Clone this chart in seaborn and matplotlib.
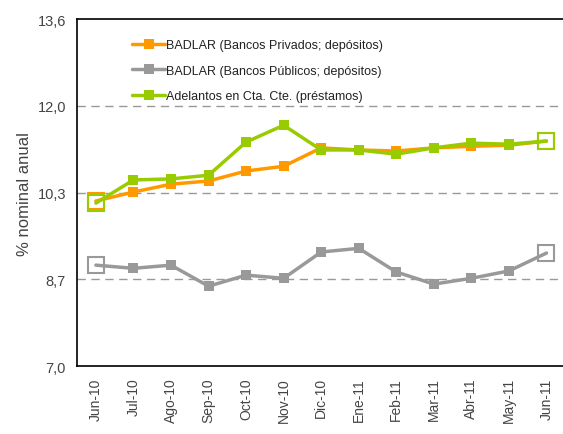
import pandas as pd
import matplotlib.pyplot as plt
import seaborn as sns
from matplotlib.lines import Line2D

sns.set_style("white")
plt.rcParams['font.family'] = ['Liberation Sans', 'DejaVu Sans']

# Data
meses = ["Jun-10", "Jul-10", "Ago-10", "Sep-10", "Oct-10", "Nov-10", "Dic-10",
         "Ene-11", "Feb-11", "Mar-11", "Abr-11", "May-11", "Jun-11"]
privados = [10.14, 10.31, 10.46, 10.52, 10.71, 10.80, 11.15, 11.11, 11.09, 11.15, 11.18, 11.20, 11.28]
publicos = [8.92, 8.86, 8.92, 8.52, 8.73, 8.67, 9.17, 9.24, 8.79, 8.56, 8.67, 8.81, 9.15]
adelantos = [10.10, 10.54, 10.56, 10.63, 11.26, 11.58, 11.11, 11.11, 11.03, 11.15, 11.24, 11.22, 11.28]

series = ["BADLAR (Bancos Privados; depósitos)",
          "BADLAR (Bancos Públicos; depósitos)",
          "Adelantos en Cta. Cte. (préstamos)"]
colores = ["#FF9900", "#999999", "#99CC00"]
y_ticks = [7.0, 8.65, 10.3, 11.95, 13.6]
y_tick_labels = ["7,0", "8,7", "10,3", "12,0", "13,6"]

df = pd.DataFrame({"mes": meses * 3,
                   "valor": privados + publicos + adelantos,
                   "serie": [s for s in series for _ in meses]})
df["x"] = df["mes"].map({m: i for i, m in enumerate(meses)})

fig = plt.figure(figsize=(5.63, 4.35), dpi=100)
ax = fig.add_axes([0.137, 0.156, 0.867, 0.798])

# filled markers everywhere except first and last month
sns.lineplot(data=df, x="x", y="valor", hue="serie", palette=colores,
             marker="s", markersize=7, markeredgewidth=0, linewidth=2.5,
             markevery=list(range(1, len(meses) - 1)),
             legend=False, ax=ax, zorder=3)

# hollow markers at first and last month
for vals, col in zip([privados, publicos, adelantos], colores):
    ax.plot([0, len(meses) - 1], [vals[0], vals[-1]], ls="none", marker="s",
            markersize=12, markerfacecolor="none", markeredgecolor=col,
            markeredgewidth=1.5, zorder=4)

ax.set_xlim(-0.5, len(meses) - 0.5)
ax.set_ylim(7.0, 13.6)
ax.set_yticks(y_ticks)
ax.set_yticklabels(y_tick_labels, fontsize=10.5, color="#444444")
ax.set_xticks(range(len(meses)))
ax.set_xticklabels(meses, rotation=90, fontsize=10, color="#444444")
ax.tick_params(axis="both", length=0, pad=8)
ax.set_xlabel("")
ax.set_ylabel("% nominal anual", fontsize=12, color="#444444", labelpad=4)

for y in y_ticks[1:-1]:
    ax.axhline(y, color="#999999", ls=(0, (6, 4)), lw=1, zorder=1)

for side in ["left", "bottom", "top"]:
    ax.spines[side].set_color("black")
    ax.spines[side].set_linewidth(1.2)
ax.spines["right"].set_visible(False)

handles = [Line2D([0], [0], color=c, lw=2.5, marker="s", markersize=7,
                  markeredgewidth=0) for c in colores]
leg = ax.legend(handles, series, loc="upper left", bbox_to_anchor=(0.09, 0.975),
                frameon=False, fontsize=9, handlelength=2.6, handletextpad=0.1,
                labelspacing=1.1)
for t in leg.get_texts():
    t.set_color("#222222")

fig.savefig("out.png", dpi=100)
